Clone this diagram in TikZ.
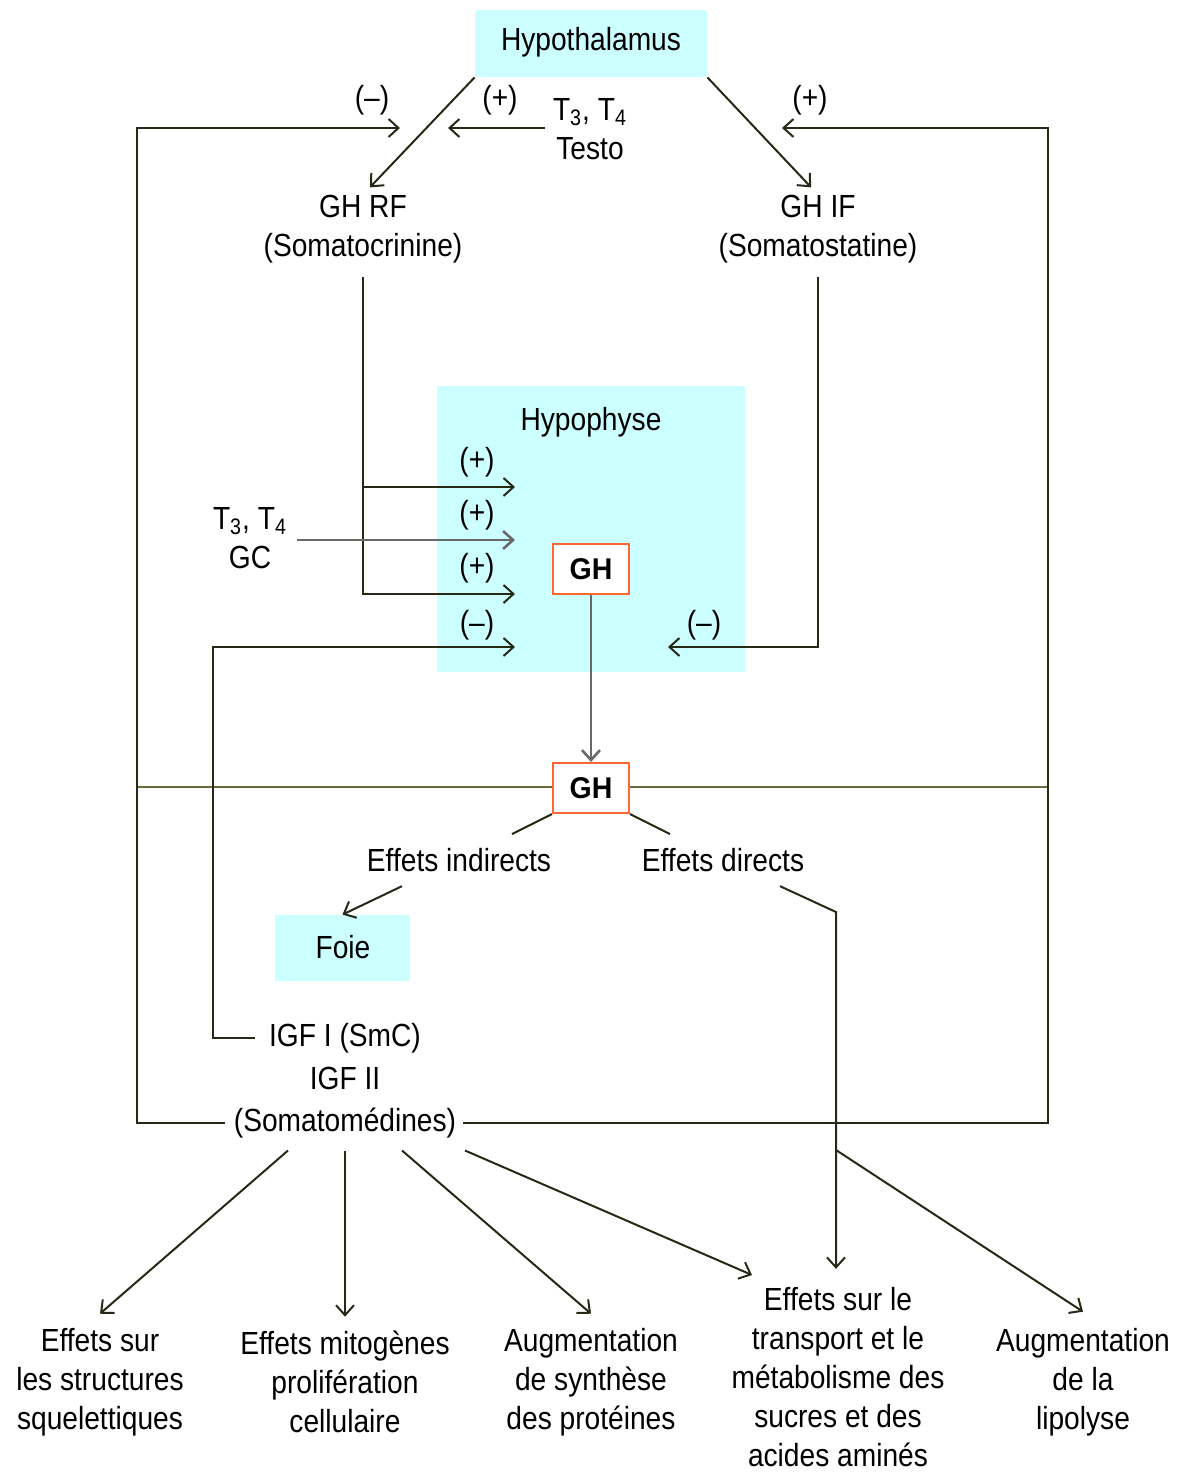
\documentclass[tikz,border=0pt]{standalone}
\usepackage{fontspec}
\setmainfont{Liberation Sans}[FakeStretch=0.88]
\newfontfamily\ghfont{Liberation Sans}[FakeStretch=0.95]
\usetikzlibrary{arrows.meta}
\definecolor{cyanbox}{RGB}{204,255,255}
\definecolor{lineol}{RGB}{40,40,22}
\definecolor{olivel}{RGB}{105,105,60}
\definecolor{orangeb}{RGB}{255,102,51}
\definecolor{greyl}{RGB}{105,105,105}
\begin{document}
\begin{tikzpicture}[x=0.5pt,y=-0.5pt,
  txt/.style={font=\fontsize{16}{19.5}\selectfont, align=center, inner sep=0pt, text=black},
  arr/.style={-{Straight Barb[length=5pt,width=9pt]}, line width=1pt, draw=lineol},
  garr/.style={-{Straight Barb[length=5pt,width=9pt]}, line width=1.3pt, draw=greyl},
  ln/.style={line width=1pt, draw=lineol},
  cbox/.style={fill=cyanbox, draw=none, inner sep=0pt},
  ghbox/.style={draw=orangeb, line width=1pt, fill=white, minimum width=38pt, minimum height=25pt, inner sep=0pt, font=\ghfont\bfseries\fontsize{15}{16}\selectfont}]
\useasboundingbox (0,0) rectangle (1184,1473);

% boxes
\node[cbox, minimum width=116pt, minimum height=33.5pt, rounded corners=1.5pt] (hyp) at (591,43.5) {};
\node[txt] (hyptxt) at (591,42) {Hypothalamus};
\node[cbox, minimum width=154pt, minimum height=143pt] (hypo) at (591,529) {};
\node[txt] (hypotxt) at (591,422) {Hypophyse};
\node[cbox, minimum width=67.5pt, minimum height=33pt] (foie) at (342.5,948) {};
\node[txt] (foietxt) at (343,947) {Foie};

% texts
\node[txt] (ghrf) at (363,229) {GH RF\\(Somatocrinine)};
\node[txt] (ghif) at (818,229) {GH IF\\(Somatostatine)};
\node[txt] (testo) at (590,129) {T\textsubscript{3}, T\textsubscript{4}\\Testo};
\node[txt] (t3gc) at (250,538) {T\textsubscript{3}, T\textsubscript{4}\\GC};
\node[txt] (ei) at (459,860) {Effets indirects};
\node[txt] (ed) at (723,860) {Effets directs};
\node[txt] (igf1) at (345,1038) {IGF I (SmC)};
\node[txt] (igf2) at (345,1078) {IGF II};
\node[txt] (somato) at (345,1123) {(Somatomédines)};
\node[txt] (b1) at (100,1382) {Effets sur\\les structures\\squelettiques};
\node[txt] (b2) at (345,1382) {Effets mitogènes\\prolifération\\cellulaire};
\node[txt] (b3) at (591,1382) {Augmentation\\de synthèse\\des protéines};
\node[txt] (b4) at (838,1377) {Effets sur le\\transport et le\\métabolisme des\\sucres et des\\acides aminés};
\node[txt] (b5) at (1083,1382) {Augmentation\\de la\\lipolyse};

% signs
\node[txt] (s1) at (372,100) {(–)};
\node[txt] (s2) at (500,100) {(+)};
\node[txt] (s3) at (810,100) {(+)};
\node[txt] (s4) at (477,462) {(+)};
\node[txt] (s5) at (477,515) {(+)};
\node[txt] (s6) at (477,568) {(+)};
\node[txt] (s7) at (477,625) {(–)};
\node[txt] (s8) at (704,625) {(–)};

% coordinates
\coordinate (lt) at (137,128);
\coordinate (rt) at (1048,128);
\coordinate (lend) at (400,128);
\coordinate (rend) at (782,128);
\coordinate (tend) at (448,128);
\coordinate (in1) at (515,487);
\coordinate (in2) at (515,540);
\coordinate (in3) at (515,594);
\coordinate (in4) at (515,647);
\coordinate (in5) at (668,647);
\coordinate (hl) at (137,787);
\coordinate (hr) at (1048,787);
\coordinate (edk) at (836,912);
\coordinate (b4w) at (752,1275);

% horizontal line with GH
\draw[line width=1pt, draw=olivel] (hl) -- (hr);

% GH boxes
\node[ghbox] (gh1) at (591,569) {GH};
\node[ghbox] (gh2) at (591,788) {GH};

% hypothalamus outputs
\draw[arr, shorten >=5pt] (hyp.south west) -- (ghrf.north);
\draw[arr, shorten >=5pt] (hyp.south east) -- (ghif.north);

% feedback loops
\draw[arr] ([xshift=-4pt]somato.west) -| (lt) -- (lend);
\draw[arr] ([xshift=3pt]somato.east) -| (rt) -- (rend);
\draw[arr] ([xshift=-4pt]testo.west |- tend) -- (tend);

% into hypophyse
\draw[arr] ([yshift=-7pt]ghrf.south) |- (in3);
\draw[arr] (ghrf.south |- in1) -- (in1);
\draw[garr] ([xshift=5pt]t3gc.east |- in2) -- (in2);
\draw[arr] ([xshift=-7pt]igf1.west) -- ++(-21pt,0) |- (in4);
\draw[arr] ([yshift=-7pt]ghif.south) |- (in5);

% GH to GH
\draw[garr] (gh1.south) -- (gh2.north);

% effects
\draw[ln] (gh2.south west) -- ++(-20pt,-10pt);
\draw[ln] (gh2.south east) -- ++(20pt,-10pt);
\draw[arr] ([xshift=-28.5pt,yshift=-7pt]ei.south) -- (foie.north);
\draw[arr] ([xshift=28.5pt,yshift=-7pt]ed.south) -- (edk) -- ([yshift=9pt]edk |- b4.north);
\draw[arr] (edk |- 0,1150) -- ([yshift=8pt]b5.north);

% somatomedine effects
\draw[arr] ([xshift=-28.5pt,yshift=-6pt]somato.south) -- ([yshift=7pt]b1.north);
\draw[arr] ([yshift=-6pt]somato.south) -- ([yshift=7pt]b2.north);
\draw[arr] ([xshift=28.5pt,yshift=-6pt]somato.south) -- ([yshift=7pt]b3.north);
\draw[arr] ([xshift=60pt,yshift=-6pt]somato.south) -- (b4w);
\end{tikzpicture}
\end{document}
